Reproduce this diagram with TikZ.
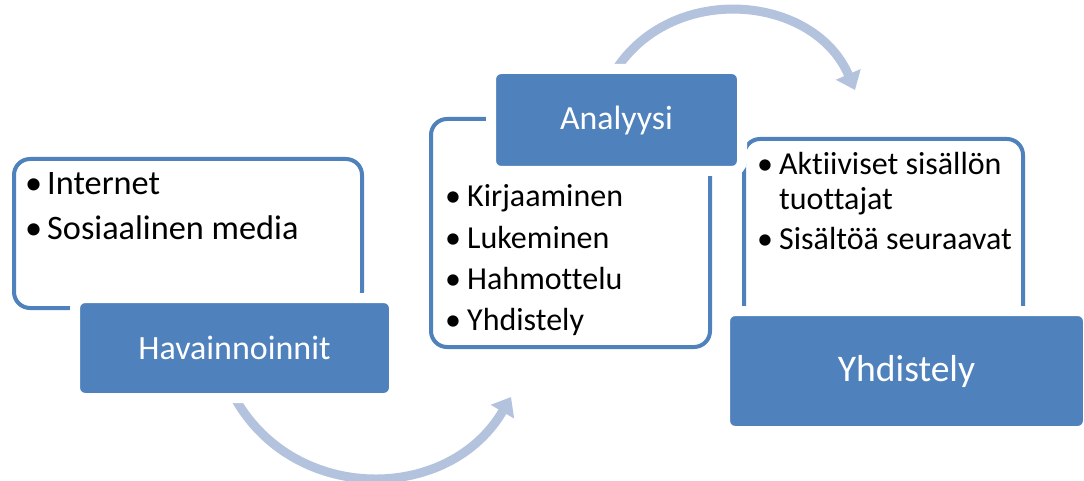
\documentclass[tikz,border=0pt]{standalone}
\usepackage{fontspec}
\setmainfont{Carlito}[Ligatures=CommonOff]
\usetikzlibrary{arrows.meta}

\definecolor{boxblue}{HTML}{4F81BD}
\definecolor{arrowblue}{HTML}{B3C2DD}
\newcommand{\blt}{\makebox[22pt][l]{\textbullet}}

\begin{document}
\begin{tikzpicture}[x=1pt,y=-1pt,
  listbox/.style={draw=boxblue, line width=4pt, fill=white, rounded corners=16pt, inner sep=0pt},
  headbox/.style={draw=white, line width=10pt, fill=boxblue, rounded corners=10pt, text=white, inner sep=0pt},
  listtext/.style={anchor=base west, inner sep=0pt},
  cyclearrow/.style={draw=arrowblue, line width=9pt, -{Triangle[length=17pt,width=26pt]}}]
\path[use as bounding box] (0,0) rectangle (1084,481);

%Curved arrows
\coordinate (arrAs) at (236,400);
\coordinate (arrAe) at (511,397);
\coordinate (arrBs) at (617,68);
\coordinate (arrBe) at (855,90);
\draw[cyclearrow] (arrAs) .. controls (296,504) and (449,503) .. (arrAe);
\draw[cyclearrow] (arrBs) .. controls (675,-18) and (814,-5) .. (arrBe);

%List boxes
\node (obsbox) [listbox, minimum width=348pt, minimum height=149pt] at (188,233.5) {};
\node (anabox) [listbox, minimum width=279pt, minimum height=228pt] at (570.5,233) {};
\node (synbox) [listbox, minimum width=279pt, minimum height=221pt] at (883.5,249.5) {};

% Text Node
\node (obsitems) [listtext, font=\fontsize{34.3}{45}\selectfont] at (25,195)
  {\begin{tabular}[t]{@{}l@{}}\blt Internet\\ \blt Sosiaalinen media\end{tabular}};
% Text Node
\node (anaitems) [listtext, font=\fontsize{32}{41.3}\selectfont] at (445,207)
  {\begin{tabular}[t]{@{}l@{}}\blt Kirjaaminen\\ \blt Lukeminen\\ \blt Hahmottelu\\ \blt Yhdistely\end{tabular}};
% Text Node
\node (synitems) [listtext, font=\fontsize{32}{35}\selectfont] at (757,175)
  {\begin{tabular}[t]{@{}l@{}}\blt Aktiiviset sisällön\\ \hspace{22pt}tuottajat\\[5pt] \blt Sisältöä seuraavat\end{tabular}};

%Heading boxes
\node (obshead) [headbox, minimum width=319pt, minimum height=100pt, font=\fontsize{34}{40}\selectfont] at (234.5,348) {Havainnoinnit};
\node (anahead) [headbox, minimum width=251pt, minimum height=102pt, font=\fontsize{33.8}{40}\selectfont] at (616.5,120) {Analyysi};
\node (synhead) [headbox, minimum width=363pt, minimum height=120pt, font=\fontsize{37.6}{44}\selectfont] at (906.5,371) {Yhdistely};

\end{tikzpicture}
\end{document}
